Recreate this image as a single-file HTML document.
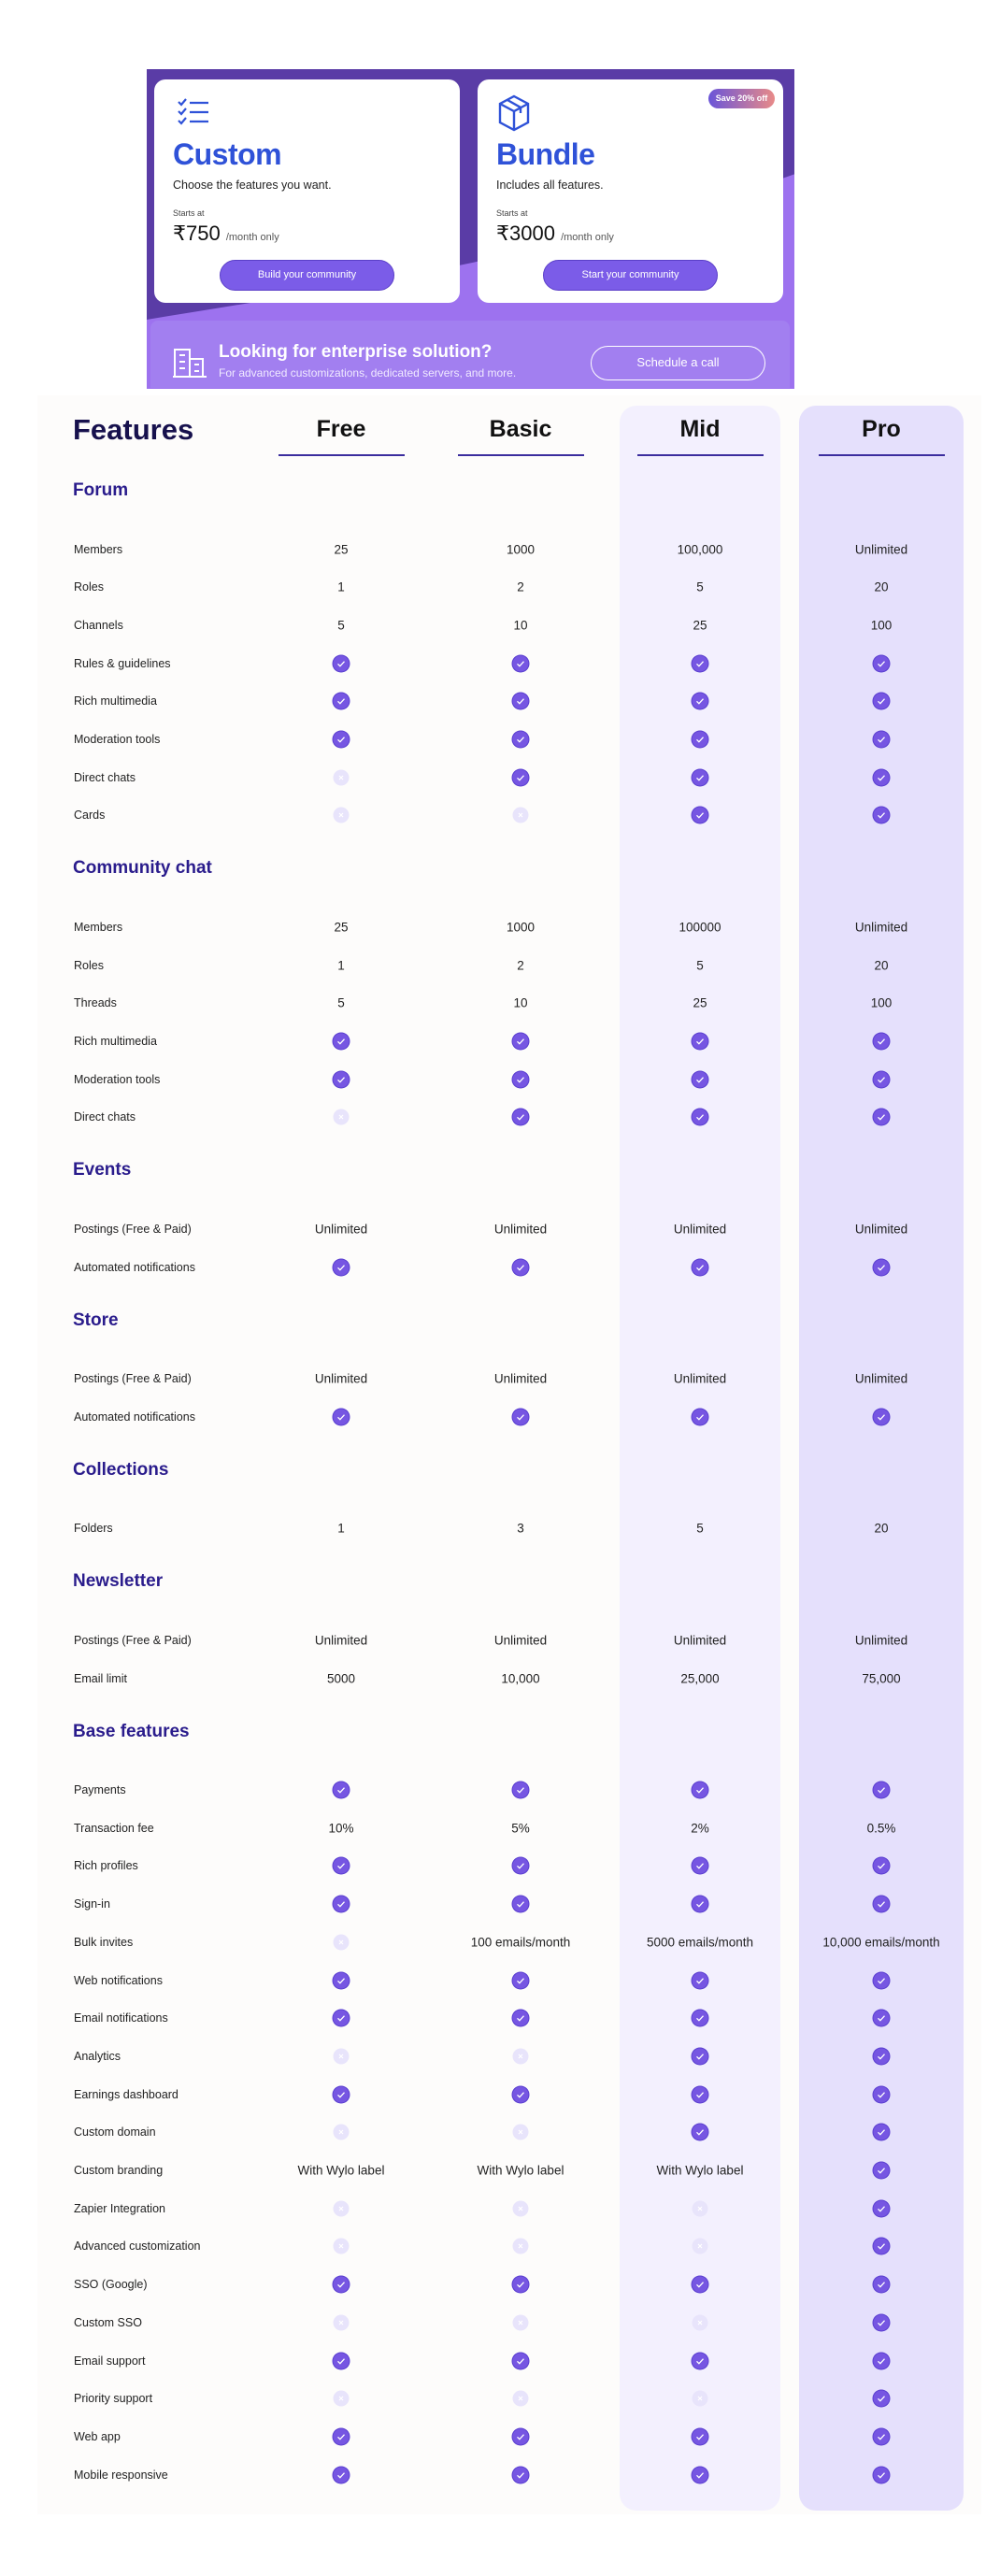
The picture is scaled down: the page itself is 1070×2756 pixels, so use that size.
<!DOCTYPE html>
<html><head><meta charset="utf-8">
<style>
body{margin:0;width:1070px;height:2756px;background:#fff;font-family:"Liberation Sans",sans-serif;position:relative;overflow:hidden}
.abs{position:absolute}
.card{position:absolute;background:#fff;border-radius:12px;top:85px;width:327px;height:239px}
.title{position:absolute;left:20px;top:62px;font-size:32px;font-weight:bold;color:#2f52d8;letter-spacing:-0.5px}
.sub{position:absolute;left:20px;top:106px;font-size:12.5px;color:#222}
.starts{position:absolute;left:20px;top:138px;font-size:9px;color:#444}
.price{position:absolute;left:20px;top:152px;font-size:22px;color:#111}
.price span{font-size:11px;color:#555}
.btn{position:absolute;left:70px;top:193px;width:187px;height:33px;border-radius:17px;background:#7b5ce8;border:1.5px solid #5b3fc8;box-sizing:border-box;color:#fff;font-size:11px;text-align:center;line-height:30px}
.colbg{position:absolute;top:434px;height:2252px;border-radius:18px}
.hd{position:absolute;top:445px;font-size:25px;font-weight:bold;color:#111;text-align:center;width:140px}
.ul{position:absolute;top:486px;height:2px;background:#3b2d9e;width:135px}
.lbl{position:absolute;left:79px;font-size:12.5px;color:#222;transform:translateY(-50%)}
.sec{position:absolute;left:78px;font-size:19px;font-weight:bold;color:#2a1c8c;transform:translateY(-50%)}
.val{position:absolute;font-size:13.5px;color:#222;transform:translate(-50%,-50%);white-space:nowrap}
.ic{position:absolute;width:17px;height:17px;border-radius:50%;transform:translate(-50%,-50%)}
.yes{background:#7656e2;box-shadow:0 0 0 1px #5a3fd0}
.no{background:#e8e4fb}
</style></head><body>
<div class="abs" style="left:157px;top:74px;width:693px;height:342px;overflow:hidden;background:#5a3ca6">
<svg class="abs" style="left:0;top:0" width="694" height="342"><path d="M0 268 C200 235 450 200 694 112 L694 342 L0 342Z" fill="#9d72ef"/></svg>
<div class="abs" style="left:4px;top:269px;width:684px;height:72px;background:#a27ff0;border-radius:8px 8px 0 0"></div>
</div>
<div class="card" style="left:165px">
<svg class="abs" style="left:24px;top:20px" width="36" height="30" stroke="#2f52d8" stroke-width="2.2" fill="none"><path d="M2 4l3 3 5-6M2 14l3 3 5-6M2 24l3 3 5-6M14 5h20M14 15h20M14 25h20"/></svg>
<div class="title">Custom</div>
<div class="sub">Choose the features you want.</div>
<div class="starts">Starts at</div>
<div class="price">₹750 <span>/month only</span></div>
<div class="btn">Build your community</div>
</div>
<div class="card" style="left:511px">
<svg class="abs" style="left:22px;top:16px" width="34" height="40" stroke="#2f52d8" stroke-width="2.4" fill="none"><path d="M17 2L32 10V30L17 38L2 30V10Z M2 10L17 18L32 10 M17 18V38 M10 6L24 14V20"/></svg>
<div class="abs" style="left:247px;top:10px;width:71px;height:21px;border-radius:11px;background:linear-gradient(90deg,#6a55d8,#e88a88);color:#fff;font-size:9px;text-align:center;line-height:21px;font-weight:bold">Save 20% off</div>
<div class="title">Bundle</div>
<div class="sub">Includes all features.</div>
<div class="starts">Starts at</div>
<div class="price">₹3000 <span>/month only</span></div>
<div class="btn">Start your community</div>
</div>
<svg class="abs" style="left:185px;top:372px" width="36" height="33" stroke="#fff" stroke-width="2" fill="none"><path d="M2 31V2H18V31 M18 12H32V31 M0 31H36 M7 8h6M7 15h6M7 22h6M23 18h5M23 25h5"/></svg>
<div class="abs" style="left:234px;top:366px;font-size:19px;font-weight:bold;color:#fff">Looking for enterprise solution?</div>
<div class="abs" style="left:234px;top:392px;font-size:12px;color:#f0eaff">For advanced customizations, dedicated servers, and more.</div>
<div class="abs" style="left:632px;top:370px;width:187px;height:37px;border:1.5px solid #fff;border-radius:19px;box-sizing:border-box;color:#fff;font-size:13px;text-align:center;line-height:34px">Schedule a call</div>

<div class="abs" style="left:40px;top:423px;width:1010px;height:2267px;background:#fdfcfb"></div>
<div class="colbg" style="left:663px;width:172px;background:#f3f0fe"></div>
<div class="colbg" style="left:855px;width:176px;background:#e5e0fc"></div>
<div class="abs" style="left:78px;top:442px;font-size:31px;font-weight:bold;color:#17114d">Features</div>
<div id="tbl"></div>
<script>
const plans=['Free','Basic','Mid','Pro'];
const sections=['Forum','Community chat','Events','Store','Collections','Newsletter','Base features'];
const forumRows=[['Members','25','1000','100,000','Unlimited'],['Roles','1','2','5','20'],['Channels','5','10','25','100'],['Rules & guidelines','Y','Y','Y','Y'],['Rich multimedia','Y','Y','Y','Y'],['Moderation tools','Y','Y','Y','Y'],['Direct chats','N','Y','Y','Y'],['Cards','N','N','Y','Y']];
const chatRows=[['Members','25','1000','100000','Unlimited'],['Roles','1','2','5','20'],['Threads','5','10','25','100'],['Rich multimedia','Y','Y','Y','Y'],['Moderation tools','Y','Y','Y','Y'],['Direct chats','N','Y','Y','Y']];
const eventRows=[['Postings (Free & Paid)','Unlimited','Unlimited','Unlimited','Unlimited'],['Automated notifications','Y','Y','Y','Y']];
const storeRows=[['Postings (Free & Paid)','Unlimited','Unlimited','Unlimited','Unlimited'],['Automated notifications','Y','Y','Y','Y']];
const collectionRows=[['Folders','1','3','5','20']];
const newsletterRows=[['Postings (Free & Paid)','Unlimited','Unlimited','Unlimited','Unlimited'],['Email limit','5000','10,000','25,000','75,000']];
const baseRows=[['Payments','Y','Y','Y','Y'],['Transaction fee','10%','5%','2%','0.5%'],['Rich profiles','Y','Y','Y','Y'],['Sign-in','Y','Y','Y','Y'],['Bulk invites','N','100 emails/month','5000 emails/month','10,000 emails/month'],['Web notifications','Y','Y','Y','Y'],['Email notifications','Y','Y','Y','Y'],['Analytics','N','N','Y','Y'],['Earnings dashboard','Y','Y','Y','Y'],['Custom domain','N','N','Y','Y'],['Custom branding','With Wylo label','With Wylo label','With Wylo label','Y'],['Zapier Integration','N','N','N','Y'],['Advanced customization','N','N','N','Y'],['SSO (Google)','Y','Y','Y','Y'],['Custom SSO','N','N','N','Y'],['Email support','Y','Y','Y','Y'],['Priority support','N','N','N','Y'],['Web app','Y','Y','Y','Y'],['Mobile responsive','Y','Y','Y','Y']];
const sectionRows=[forumRows,chatRows,eventRows,storeRows,collectionRows,newsletterRows,baseRows];
const colX=[365,557,749,943];
const T=document.getElementById('tbl');
function mk(cls,txt,x,y,nm){const d=document.createElement('div');d.className=cls;if(txt!==null)d.textContent=txt;if(x!==null)d.style.left=x+'px';d.style.top=y+'px';


T.appendChild(d);return d;}
plans.forEach((p,i)=>{mk('hd',p,colX[i]-70,445,'plan-header-'+p.toLowerCase());mk('ul',null,colX[i]-67,486,'plan-underline-'+p.toLowerCase());});
let y=525;
sections.forEach((s,si)=>{
  mk('sec',s,null,y,'section-heading');
  y+=62.5;
  sectionRows[si].forEach((r,ri)=>{
    if(ri>0)y+=40.7;
    mk('lbl',r[0],null,y,'feature-label');
    for(let c=0;c<4;c++){const v=r[c+1];
      if(v==='Y'){const e=mk('ic yes',null,colX[c],y,'check-icon');e.innerHTML='<svg width="17" height="17" style="position:absolute;left:0;top:0"><path d="M5 8.8l2.4 2.4 4.6-5" stroke="#fff" stroke-width="1.3" fill="none"/></svg>';}
      else if(v==='N'){const e=mk('ic no',null,colX[c],y,'unavailable-icon');e.innerHTML='<svg width="17" height="17" style="position:absolute;left:0;top:0"><path d="M6.5 6.5l4 4M10.5 6.5l-4 4" stroke="#fff" stroke-width="1.2"/></svg>';}
      else mk('val',v,colX[c],y,'cell-value');
    }
  });
  y+=57;
});
</script>
</body></html>
